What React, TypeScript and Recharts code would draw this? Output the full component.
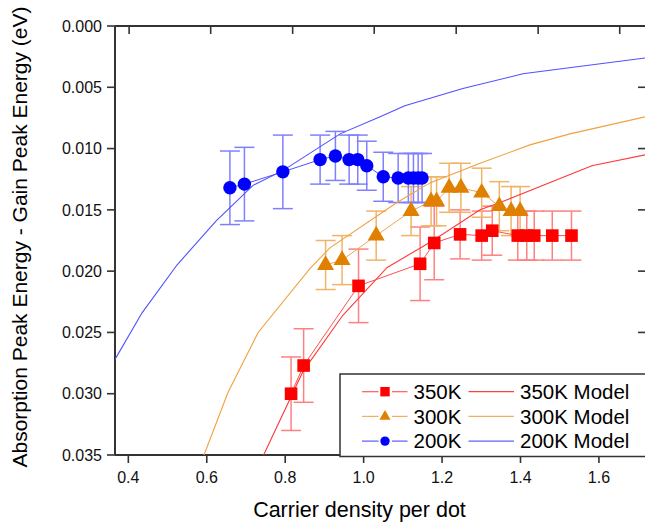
import React from 'react';
import { ComposedChart, Scatter, XAxis, YAxis, ErrorBar, ReferenceLine } from 'recharts';

// ---------- data ----------
const xTicks = [0.4, 0.6, 0.8, 1.0, 1.2, 1.4, 1.6];
const yTicks = [0, 0.005, 0.01, 0.015, 0.02, 0.025, 0.03, 0.035];
const topTicks = [0.402, 0.610, 0.819, 1.027, 1.236, 1.445, 1.653];

const x350 = [0.815, 0.847, 0.987, 1.144, 1.180, 1.246, 1.301, 1.328, 1.393, 1.416, 1.435, 1.481, 1.530];
const y350 = [0.0300, 0.0277, 0.0212, 0.0194, 0.0177, 0.0170, 0.0171, 0.0167, 0.0171, 0.0171, 0.0171, 0.0171, 0.0171];
const e350 = [0.003, 0.003, 0.003, 0.003, 0.003, 0.002, 0.002, 0.002, 0.002, 0.002, 0.002, 0.002, 0.002];

const x300 = [0.903, 0.945, 1.032, 1.121, 1.172, 1.186, 1.218, 1.248, 1.301, 1.346, 1.376, 1.399];
const y300 = [0.0195, 0.0191, 0.0171, 0.0151, 0.0143, 0.0143, 0.0132, 0.0132, 0.0136, 0.0147, 0.0151, 0.0151];
const e300 = [0.002, 0.002, 0.002, 0.002, 0.002, 0.002, 0.002, 0.002, 0.002, 0.002, 0.002, 0.002];

const x200 = [0.659, 0.696, 0.794, 0.889, 0.928, 0.963, 0.985, 1.008, 1.050, 1.088, 1.114, 1.127, 1.139, 1.149];
const y200 = [0.0132, 0.0129, 0.0119, 0.0109, 0.0106, 0.0109, 0.0109, 0.0114, 0.0123, 0.0124, 0.0124, 0.0124, 0.0124, 0.0124];
const e200 = [0.003, 0.003, 0.003, 0.002, 0.002, 0.002, 0.002, 0.002, 0.002, 0.002, 0.002, 0.002, 0.002, 0.002];

const xm350 = [0.745, 0.845, 0.947, 1.060, 1.177, 1.297, 1.348, 1.582, 1.720];
const ym350 = [0.0350, 0.0282, 0.0236, 0.0197, 0.0175, 0.0150, 0.0144, 0.0114, 0.0105];

const xm300 = [0.593, 0.654, 0.731, 0.863, 0.914, 1.085, 1.169, 1.297, 1.424, 1.526, 1.720];
const ym300 = [0.0350, 0.0299, 0.0250, 0.0198, 0.0181, 0.0144, 0.0128, 0.0112, 0.0097, 0.0088, 0.0074];

const xm200 = [0.366, 0.435, 0.524, 0.624, 0.718, 0.794, 0.940, 1.042, 1.105, 1.253, 1.406, 1.720];
const ym200 = [0.0272, 0.0234, 0.0195, 0.0159, 0.0130, 0.0118, 0.0088, 0.0074, 0.0065, 0.0051, 0.0039, 0.0026];

const seriesNames = ['350K', '300K', '200K'];
const modelNames = ['350K Model', '300K Model', '200K Model'];

// ---------- build tables ----------
const pts = (xs: number[], ys: number[], es?: number[]) =>
  xs.map((x, i) => (es ? { x, y: ys[i], e: es[i] } : { x, y: ys[i] }));

const d350 = pts(x350, y350, e350);
const d300 = pts(x300, y300, e300);
const d200 = pts(x200, y200, e200);
const m350 = pts(xm350, ym350);
const m300 = pts(xm300, ym300);
const m200 = pts(xm200, ym200);

const X_DOMAIN: [number, number] = [0.366, 1.72];
const Y_DOMAIN: [number, number] = [0, 0.035];
// inward tick lengths (8 px) expressed in data units
const TOP_TICK_LEN = 0.00065;
const RIGHT_TICK_LEN = 0.0204;

const FONT = '"Liberation Sans", Arial, Helvetica, sans-serif';
const AX = '#333333';

const RED = '#ff0000';
const ORANGE = '#e08000';
const BLUE = '#0000ff';

const SquareShape = (p: any) => (
  <rect x={p.cx - 6.3} y={p.cy - 6.3} width={12.6} height={12.6} fill={RED} />
);
const TriShape = (p: any) => (
  <polygon
    points={`${p.cx},${p.cy - 9.8} ${p.cx - 8.5},${p.cy + 4.9} ${p.cx + 8.5},${p.cy + 4.9}`}
    fill={ORANGE}
  />
);
const CircleShape = (p: any) => <circle cx={p.cx} cy={p.cy} r={6.7} fill={BLUE} />;
const NoShape = () => <g />;

const XTitle = (props: any) => {
  const vb = props.viewBox || { x: 115, y: 455, width: 531, height: 68 };
  return (
    <text
      x={vb.x + vb.width / 2 - 21}
      y={517}
      textAnchor="middle"
      fontFamily={FONT}
      fontSize={21.5}
      fill="#000"
    >
      Carrier density per dot
    </text>
  );
};

const YTitle = () => (
  <text
    x={0}
    y={0}
    transform="translate(27,237) rotate(-90)"
    textAnchor="middle"
    fontFamily={FONT}
    fontSize={21}
    fill="#000"
  >
    Absorption Peak Energy - Gain Peak Energy (eV)
  </text>
);

const legendRows = [
  { name: seriesNames[0], model: modelNames[0], line: '#ff5a5a', mline: '#ff4040', kind: 'sq' },
  { name: seriesNames[1], model: modelNames[1], line: '#f0b060', mline: '#f0b060', kind: 'tri' },
  { name: seriesNames[2], model: modelNames[2], line: '#5a5aff', mline: '#6060ff', kind: 'ci' },
];

const LegendOverlay = () => (
  <svg
    width={645}
    height={523}
    style={{ position: 'absolute', left: 0, top: 0, pointerEvents: 'none' }}
  >
    <rect x={340} y={374} width={330} height={82.5} fill="#fff" stroke={AX} strokeWidth={1.5} />
    {legendRows.map((r, i) => {
      const cy = 391.7 + i * 24.7;
      const mx = 385;
      return (
        <g key={r.name}>
          <line x1={362} x2={378.5} y1={cy} y2={cy} stroke={r.line} strokeWidth={1.2} />
          <line x1={392} x2={407.5} y1={cy} y2={cy} stroke={r.line} strokeWidth={1.2} />
          {r.kind === 'sq' && <rect x={mx - 4.7} y={cy - 4.7} width={9.4} height={9.4} fill={RED} />}
          {r.kind === 'tri' && (
            <polygon points={`${mx},${cy - 6.5} ${mx - 5.6},${cy + 3.3} ${mx + 5.6},${cy + 3.3}`} fill={ORANGE} />
          )}
          {r.kind === 'ci' && <circle cx={mx} cy={cy} r={4.7} fill={BLUE} />}
          <text x={413.5} y={cy + 7.3} fontFamily={FONT} fontSize={20.5} fill="#000">
            {r.name}
          </text>
          <line x1={468.5} x2={514} y1={cy} y2={cy} stroke={r.mline} strokeWidth={1.2} />
          <text x={520} y={cy + 7.3} fontFamily={FONT} fontSize={20.5} fill="#000">
            {r.model}
          </text>
        </g>
      );
    })}
  </svg>
);

export default function App() {
  return (
    <div
      style={{
        position: 'absolute',
        left: 0,
        top: 0,
        width: 645,
        height: 523,
        overflow: 'hidden',
        background: '#fff',
      }}
    >
      <ComposedChart width={660} height={523} margin={{ top: 26, right: 14, bottom: 0, left: 0 }}>
        <XAxis
          type="number"
          dataKey="x"
          domain={X_DOMAIN}
          ticks={xTicks}
          allowDataOverflow
          orientation="bottom"
          height={68}
          tickSize={8}
          tickMargin={9}
          interval={0}
          tickFormatter={(v: number) => v.toFixed(1)}
          tick={{ fontSize: 16, fill: '#111', fontFamily: FONT }}
          axisLine={{ stroke: AX, strokeWidth: 2 }}
          tickLine={{ stroke: AX, strokeWidth: 1.6 }}
          label={XTitle}
        />
        <YAxis
          type="number"
          dataKey="y"
          domain={Y_DOMAIN}
          reversed
          ticks={yTicks}
          allowDataOverflow
          width={115}
          tickSize={8}
          tickMargin={5}
          interval={0}
          tickFormatter={(v: number) => v.toFixed(3)}
          tick={{ fontSize: 16, fill: '#111', fontFamily: FONT }}
          axisLine={{ stroke: AX, strokeWidth: 2 }}
          tickLine={{ stroke: AX, strokeWidth: 1.6 }}
          label={YTitle}
        />

        {/* frame: top edge with inward ticks, right edge ticks */}
        <ReferenceLine y={Y_DOMAIN[0]} stroke={AX} strokeWidth={2} />
        <ReferenceLine x={X_DOMAIN[1]} stroke={AX} strokeWidth={2} />
        {topTicks.map((t) => (
          <ReferenceLine
            key={'tt' + t}
            segment={[{ x: t, y: Y_DOMAIN[0] }, { x: t, y: Y_DOMAIN[0] + TOP_TICK_LEN }]}
            stroke={AX}
            strokeWidth={1.6}
          />
        ))}
        {yTicks.map((t) => (
          <ReferenceLine
            key={'rt' + t}
            segment={[{ x: X_DOMAIN[1] - RIGHT_TICK_LEN, y: t }, { x: X_DOMAIN[1], y: t }]}
            stroke={AX}
            strokeWidth={1.6}
          />
        ))}

        {/* model curves */}
        <Scatter data={m350} shape={NoShape} line={{ stroke: '#ff3a3a', strokeWidth: 1.1 }} isAnimationActive={false} />
        <Scatter data={m300} shape={NoShape} line={{ stroke: '#f0a040', strokeWidth: 1.1 }} isAnimationActive={false} />
        <Scatter data={m200} shape={NoShape} line={{ stroke: '#5050ff', strokeWidth: 1.1 }} isAnimationActive={false} />

        {/* measured data */}
        <Scatter data={d350} shape={SquareShape} line={{ stroke: '#ff5050', strokeWidth: 1 }} isAnimationActive={false}>
          <ErrorBar dataKey="e" direction="y" width={10} stroke="#ff8080" strokeWidth={1.5} isAnimationActive={false} />
        </Scatter>
        <Scatter data={d300} shape={TriShape} line={{ stroke: '#f0a850', strokeWidth: 1 }} isAnimationActive={false}>
          <ErrorBar dataKey="e" direction="y" width={10} stroke="#f0b468" strokeWidth={1.5} isAnimationActive={false} />
        </Scatter>
        <Scatter data={d200} shape={CircleShape} line={{ stroke: '#5050ff', strokeWidth: 1 }} isAnimationActive={false}>
          <ErrorBar dataKey="e" direction="y" width={10} stroke="#8080ff" strokeWidth={1.5} isAnimationActive={false} />
        </Scatter>
      </ComposedChart>
      <LegendOverlay />
    </div>
  );
}
